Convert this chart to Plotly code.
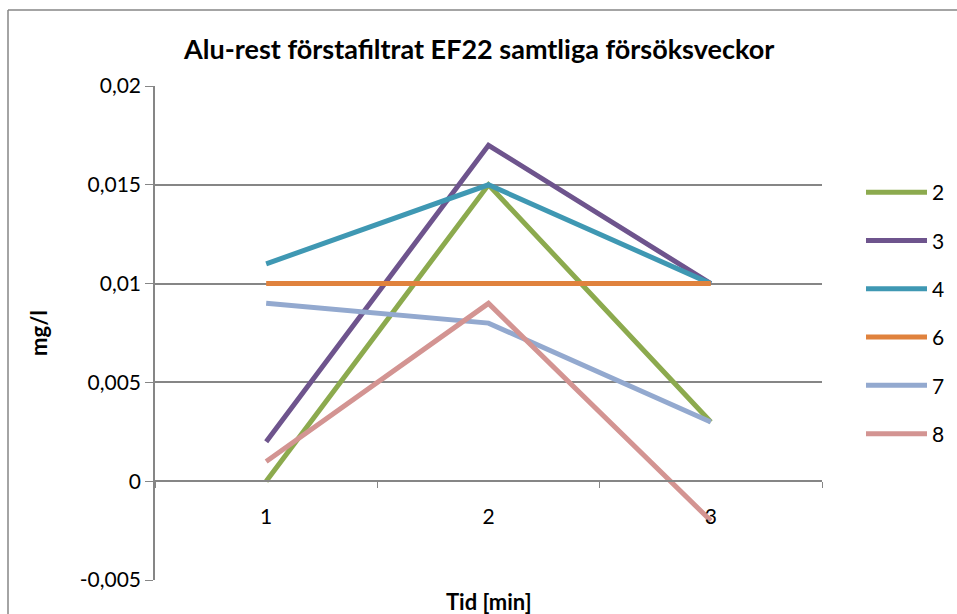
import plotly.graph_objects as go

categories = ["1", "2", "3"]
series_names = ["2", "3", "4", "6", "7", "8"]
s2 = [0.0, 0.015, 0.003]
s3 = [0.002, 0.017, 0.010]
s4 = [0.011, 0.015, 0.010]
s6 = [0.010, 0.010, 0.010]
s7 = [0.009, 0.008, 0.003]
s8 = [0.001, 0.009, -0.002]
series_values = [s2, s3, s4, s6, s7, s8]
colors = ["#8CAA4E", "#6E548D", "#3F98B3", "#E0823D", "#93A9CF", "#D39492"]
y_ticks = [-0.005, 0, 0.005, 0.01, 0.015, 0.02]
y_tick_labels = ["-0,005", "0", "0,005", "0,01", "0,015", "0,02"]

FONT = "Lato"
fig = go.Figure()
for name, vals, col in zip(series_names, series_values, colors):
    fig.add_trace(go.Scatter(x=categories, y=vals, name=name, mode="lines",
                             line=dict(color=col, width=5), legendgroup=name))

W, H = 957, 614
L, R, T, B = 155, 135, 86, 34
pw, ph = W - L - R, H - T - B

def px_x(p):
    return (p - L) / pw

def px_y(p):
    return (H - B - p) / ph

fig.update_layout(
    width=W, height=H,
    margin=dict(l=L, r=R, t=T, b=B, autoexpand=False),
    paper_bgcolor="white", plot_bgcolor="white",
    font=dict(family=FONT, size=21, color="black"),
    title=dict(text="<b>Alu-rest förstafiltrat EF22 samtliga försöksveckor</b>",
               x=px_x(489), xanchor="center", y=1 - 50 / H, yanchor="middle",
               font=dict(size=27, family=FONT)),
    xaxis=dict(type="category", range=[-0.5, 2.5], showgrid=False,
               showline=True, linecolor="#868686", linewidth=1.5,
               ticks="outside", ticklen=6, tickcolor="#868686", tickson="boundaries",
               anchor="free", position=px_y(481), ticklabelstandoff=17,
               tickfont=dict(size=21), zeroline=False, automargin=False),
    yaxis=dict(range=[-0.005, 0.02], tickvals=y_ticks, ticktext=y_tick_labels,
               showgrid=True, gridcolor="#868686", gridwidth=1.5,
               showline=True, linecolor="#868686", linewidth=1.5,
               ticks="outside", ticklen=8, tickcolor="#868686",
               tickfont=dict(size=21), zeroline=False, automargin=False,
               title=dict(text="<b>mg/l</b>", standoff=26, font=dict(size=22))),
    legend=dict(x=px_x(861), xanchor="left", y=px_y(172), yanchor="top",
                font=dict(size=21), tracegroupgap=18, itemwidth=61,
                bgcolor="rgba(0,0,0,0)"),
    showlegend=True,
)

fig.add_annotation(text="<b>Tid [min]</b>", xref="paper", yref="paper",
                   x=px_x(489), y=px_y(601), xanchor="center", yanchor="middle",
                   showarrow=False, font=dict(size=22, family=FONT))

# outer chart border
fig.add_shape(type="line", xref="paper", yref="paper",
              x0=px_x(8), x1=px_x(960), y0=px_y(10), y1=px_y(10),
              line=dict(color="#868686", width=1.5))
fig.add_shape(type="line", xref="paper", yref="paper",
              x0=px_x(8), x1=px_x(8), y0=px_y(10), y1=px_y(620),
              line=dict(color="#868686", width=1.5))

fig.write_html("out.html", config={"displayModeBar": False})
